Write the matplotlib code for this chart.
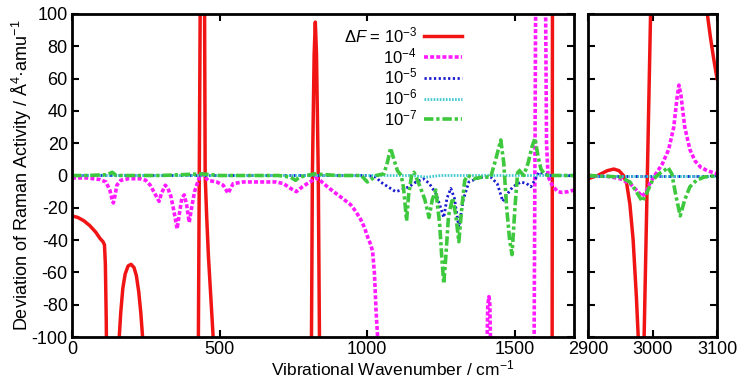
#!/usr/bin/env python3
"""
Raman activity deviation vs. finite-difference step, broken x axis.
"""
import matplotlib
matplotlib.use("Agg")
import matplotlib.pyplot as plt
from matplotlib.lines import Line2D
import numpy as np

plt.rcParams["font.family"] = ["Liberation Sans", "DejaVu Sans"]
plt.rcParams["mathtext.fontset"] = "custom"
plt.rcParams["mathtext.rm"] = "Liberation Sans"
plt.rcParams["mathtext.it"] = "Liberation Sans:italic"
plt.rcParams["mathtext.default"] = "regular"
plt.rcParams["axes.unicode_minus"] = False

# ── data: (wavenumber, deviation) ──
# values beyond +-100 are just "off scale"
red_lo = [(0, -25), (20, -26), (40, -28), (60, -31), (80, -35), (95, -39), (105, -41),
          (110, -43), (113, -55), (116, -90), (118, -130),
          (155, -130), (160, -100), (165, -85), (172, -70), (180, -61), (190, -56),
          (200, -55), (210, -57), (218, -62), (226, -72), (233, -85), (239, -100), (243, -130),
          (424, -130), (428, -100), (431, 0), (434, 100), (436, 150), (447, 150), (449, 100),
          (451, 0), (456, -25), (462, -50), (470, -75), (478, -100), (485, -130),
          (808, -130), (811, -100), (814, 0), (820, 75), (824, 95), (828, 75), (834, 0),
          (838, -100), (842, -130),
          (1625, -300), (1628, 300), (1700, 300)]
red_hi = [(2900, -2), (2915, 0), (2930, 3), (2940, 4), (2948, 3), (2955, 0), (2960, -5),
          (2965, -18), (2970, -40), (2975, -75), (2979, -110), (2984, -130), (2987, -100),
          (2992, 0), (2997, 100), (3000, 130), (3082, 130), (3085, 100), (3090, 85),
          (3095, 72), (3100, 60)]

mag_lo = [(0, -1.5), (50, -1.5), (95, -2.5), (115, -4), (128, -9), (136, -15), (140, -17),
          (145, -13), (152, -6), (165, -3), (190, -2), (230, -2), (250, -3), (265, -6),
          (280, -11), (295, -16), (303, -11), (316, -6), (325, -8), (335, -13), (345, -22),
          (356, -33), (365, -22), (372, -14), (380, -12), (388, -18), (397, -29), (405, -20),
          (415, -10), (424, -5), (432, -1), (441, 1), (450, -1), (461, -3), (490, -4),
          (512, -6), (522, -9), (529, -11), (537, -8), (546, -5), (580, -4), (638, -4),
          (690, -4), (716, -5), (740, -8), (760, -10), (780, -7), (797, -5), (815, -3),
          (825, -1.5), (840, -3), (865, -7), (886, -10), (915, -14), (943, -18), (960, -22),
          (977, -27), (990, -32), (1001, -38), (1012, -43), (1018, -47), (1024, -60),
          (1030, -85), (1035, -100), (1038, -130),
          (1402, -130), (1406, -100), (1408, -80), (1412, -75), (1415, -80), (1417, -100),
          (1420, -130),
          (1562, -130), (1565, -100), (1570, 100), (1575, 150), (1600, 150), (1604, 100),
          (1607, 20), (1612, 0), (1620, -4), (1630, -7), (1645, -10), (1660, -10.5),
          (1680, -10), (1700, -9)]
mag_hi = [(2900, 0), (2930, -0.5), (2950, -2), (2965, -5), (2975, -9), (2984, -13),
          (2990, -10), (2997, -4), (3005, 1), (3015, 7), (3025, 16), (3033, 30), (3038, 48),
          (3041, 56), (3044, 50), (3050, 30), (3058, 16), (3066, 9), (3075, 5), (3085, 3),
          (3100, 1)]

blue_lo = [(0, 0), (1000, 0), (1030, -1), (1045, -4), (1070, -7), (1096, -10), (1115, -9),
           (1141, -7), (1165, -4), (1191, -2), (1210, -5), (1232, -11), (1245, -18),
           (1259, -26), (1270, -14), (1283, -8), (1295, -14), (1310, -32), (1325, -15),
           (1344, -4), (1370, -2), (1384, -1), (1418, -1), (1440, -5), (1459, -16),
           (1476, -11), (1493, -7), (1520, -4), (1540, -5), (1554, -7), (1570, -2),
           (1581, 2), (1600, 1), (1612, 0), (1700, 0)]
blue_hi = [(2900, 0), (3100, 0)]

cyan_lo = [(0, 0), (1150, 0), (1200, -1), (1250, 0), (1700, 0)]
cyan_hi = [(2900, 0), (3100, 0)]

green_lo = [(0, 0), (50, 0), (120, 0.5), (136, 2), (150, 0), (300, 0), (440, 1), (500, 0),
            (700, 0), (740, -1), (757, -3), (770, -1), (820, 1), (900, 0), (980, 0),
            (1000, -4), (1010, -3), (1030, 0), (1056, 1), (1068, 8), (1079, 17), (1090, 10),
            (1102, 3), (1115, 0), (1123, -8), (1133, -28), (1140, -12), (1150, 0), (1158, 2),
            (1170, -3), (1181, -8), (1195, -15), (1209, -26), (1220, -15), (1232, -9),
            (1245, -30), (1252, -50), (1259, -67), (1266, -50), (1275, -25), (1289, -14),
            (1300, -25), (1310, -41), (1320, -20), (1330, -3), (1340, 0), (1361, -2),
            (1390, -1), (1418, -1), (1435, 10), (1452, 22), (1462, 8), (1472, -20),
            (1482, -40), (1490, -49), (1500, -20), (1510, 4), (1520, 2), (1530, 0),
            (1545, 8), (1558, 18), (1568, 23), (1578, 12), (1588, 4), (1600, 1), (1612, 0),
            (1700, 0)]
green_hi = [(2900, 0), (2930, -0.5), (2950, -1), (2965, -4), (2975, -10), (2984, -16),
            (2992, -10), (3000, -3), (3010, 1), (3018, 3), (3024, 5), (3030, 1), (3036, -12),
            (3043, -25), (3050, -15), (3058, -7), (3068, -3), (3080, -1), (3100, 0)]

labels = [r"$\Delta\mathit{F}$ = 10$^{-3}$", r"10$^{-4}$", r"10$^{-5}$", r"10$^{-6}$", r"10$^{-7}$"]

styles = [
    dict(color="#f01414", lw=2.5, ls="-"),
    dict(color="#ff1aff", lw=2.6, ls=(0, (1.1, 0.6))),
    dict(color="#1a1ad0", lw=2.0, ls=(0, (0.8, 0.9))),
    dict(color="#40c8d0", lw=2.0, ls=(0, (0.6, 0.5))),
    dict(color="#3ec83e", lw=2.6, ls=(0, (2.6, 0.8, 0.9, 0.8))),
]
series = [(red_lo, red_hi), (mag_lo, mag_hi), (blue_lo, blue_hi),
          (cyan_lo, cyan_hi), (green_lo, green_hi)]

fig = plt.figure(figsize=(7.41, 3.82), dpi=100)
ax1 = fig.add_axes([72 / 741, 45 / 382, 502 / 741, 323 / 382])
ax2 = fig.add_axes([588 / 741, 45 / 382, 129 / 741, 323 / 382])

for (lo, hi), st in zip(series, styles):
    for ax, pts in ((ax1, lo), (ax2, hi)):
        xs, ys = np.array(pts, dtype=float).T
        ax.plot(xs, ys, color=st["color"], lw=st["lw"], linestyle=st["ls"],
                solid_joinstyle="round")

for ax in (ax1, ax2):
    ax.set_ylim(-100, 100)
    ax.set_yticks(np.arange(-100, 101, 20))
    ax.tick_params(direction="in", length=5, width=1.5, top=True, right=True,
                   labelsize=13, pad=3)
    for sp in ax.spines.values():
        sp.set_linewidth(2)

ax1.set_xlim(0, 1700)
ax1.set_xticks([0, 500, 1000, 1500])
ax2.set_xlim(2900, 3100)
ax2.set_xticks([2900, 3000, 3100])
ax2.tick_params(labelleft=False)

ax1.set_ylabel("Deviation of Raman Activity / Å$^4$·amu$^{-1}$", fontsize=13, labelpad=-1.5)
fig.text(0.530, 0.018, "Vibrational Wavenumber / cm$^{-1}$", fontsize=12.5,
         ha="center", va="baseline")

handles = [Line2D([], [], color=st["color"], lw=st["lw"], linestyle=st["ls"]) for st in styles]
ax1.legend(handles, labels, loc="upper right", bbox_to_anchor=(0.777, 0.965),
           frameon=False, markerfirst=False, fontsize=12, handlelength=2.3,
           handletextpad=0.4, labelspacing=0.05, borderpad=0, borderaxespad=0)

fig.savefig("out.png", dpi=100)
